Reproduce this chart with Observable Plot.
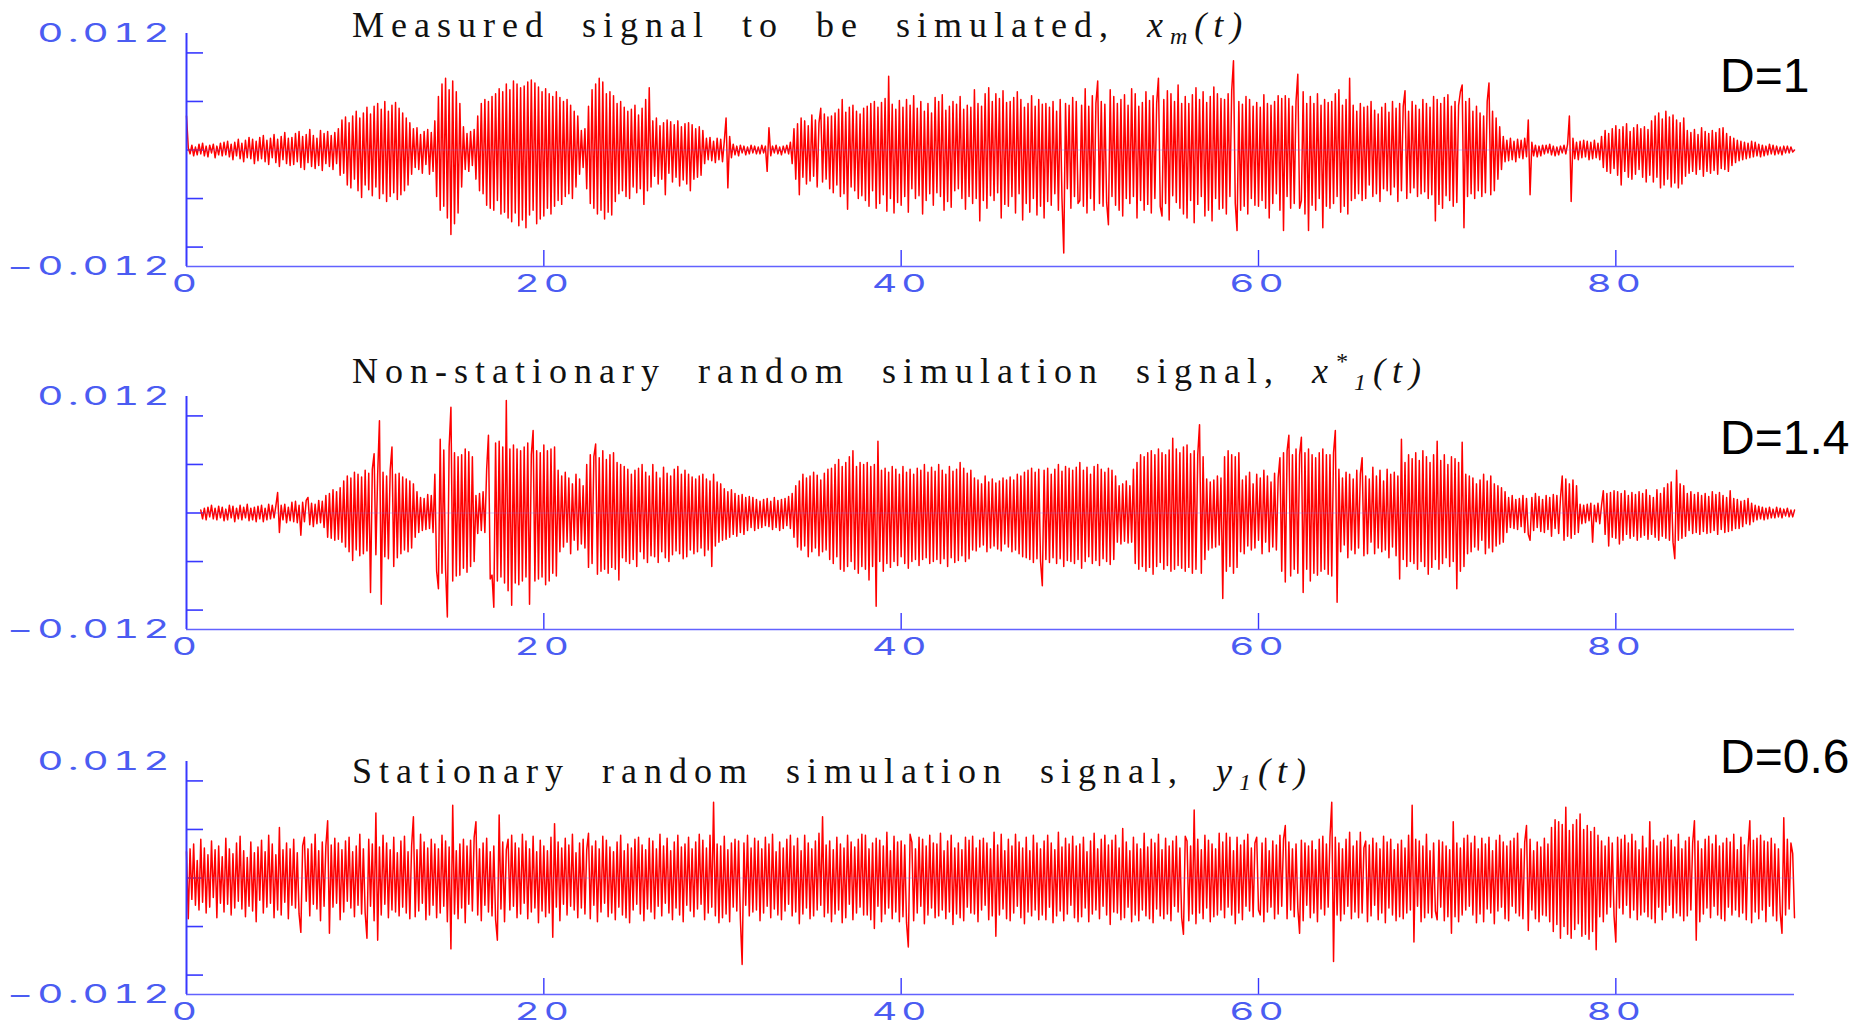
<!DOCTYPE html>
<html>
<head>
<meta charset="utf-8">
<script src="https://cdn.jsdelivr.net/npm/d3@7"></script>
<script src="https://cdn.jsdelivr.net/npm/@observablehq/plot@0.6"></script>
<style>
  html, body { margin: 0; padding: 0; background: #fff; }
  #chart { position: relative; width: 1854px; height: 1026px; overflow: hidden; background: #fff; }
  #chart svg.panel { position: absolute; left: 0; }
  #overlay { position: absolute; left: 0; top: 0; pointer-events: none; }
</style>
</head>
<body>
<div id="chart"></div>
<script>
// Time axis: one sample every DT seconds from 0 to 90 s.
const DT = 0.1;
const xDomain = [0, 90];
const xTicks = [0, 20, 40, 60, 80];
const yTicks = [-0.01, -0.005, 0, 0.005, 0.01];
const yLimits = [-0.012, 0.012];
// Amplitudes below are stored in units of 1e-4; each row holds 2 s of samples.
const AMP_UNIT = 1e-4;

// Measured signal x_m(t)
const measured = [
  /*  0 s */ 35, 2, -4, 5, -6, 3, -5, 6, -4, 7, -6, 4, -7, 5, -3, 6, -8, 4, -5, 7,
  /*  2 s */ -6, 8, -5, 9, -7, 6, -10, 8, -6, 11, -9, 7, -12, 10, -8, 13, -9, 11, -14, 9,
  /*  4 s */ -11, 13, -9, 15, -12, 10, -15, 12, -8, 16, -13, 11, -17, 14, -10, 18, -14, 12, -16, 13,
  /*  6 s */ -15, 17, -12, 19, -18, 14, -20, 16, -13, 21, -17, 15, -19, 12, -16, 20, -21, 17, -14, 19,
  /*  8 s */ -17, 15, -20, 18, -14, 22, -26, 31, -24, 34, -36, 28, -39, 35, -30, 40, -42, 33, -49, 38,
  /* 10 s */ -36, 44, -41, 37, -47, 45, -38, 48, -50, 42, -45, 50, -53, 40, -48, 46, -44, 49, -51, 43,
  /* 12 s */ -46, 38, -42, 33, -36, 28, -25, 22, -18, 23, -20, 16, -24, 19, -15, 21, -25, 18, -22, 30,
  /* 14 s */ -48, 55, -62, 68, -58, 74, -70, 62, -87, 71, -76, 60, -65, 48, -38, 24, -20, 17, -22, 19,
  /* 16 s */ -16, 21, -30, 35, -42, 48, -45, 52, -57, 50, -60, 55, -62, 58, -52, 63, -66, 60, -64, 68,
  /* 18 s */ -70, 62, -74, 71, -65, 68, -78, 64, -72, 66, -80, 70, -67, 72, -62, 69, -76, 65, -71, 60,
  /* 20 s */ -68, 63, -60, 58, -66, 55, -58, 60, -52, 54, -56, 50, -48, 52, -45, 46, -50, 40, -38, 35,
  /* 22 s */ -25, 20, -18, 22, -40, 45, -55, 62, -60, 68, -66, 74, -62, 70, -71, 58, -64, 60, -67, 56,
  /* 24 s */ -53, 48, -45, 50, -42, 44, -48, 40, -50, 42, -38, 46, -44, 36, -40, 43, -56, 52, -42, 64,
  /* 26 s */ -38, 30, -27, 33, -35, 25, -30, 28, -46, 31, -24, 29, -33, 26, -28, 30, -37, 24, -31, 27,
  /* 28 s */ -35, 28, -42, 26, -30, 22, -28, 24, -26, 20, -14, 12, -10, 13, -11, 9, -13, 12, -10, 11,
  /* 30 s */ -12, 9, 33, -39, 14, -8, 6, -5, 4, -6, 5, -3, 4, -5, 3, -4, 5, -3, 4, -4,
  /* 32 s */ 3, -4, 5, -3, 4, -22, 23, -6, 4, -3, 5, -4, 3, -5, 4, -3, 5, -4, 8, -14,
  /* 34 s */ 22, -30, 27, -46, 33, -28, 30, -35, 25, -32, 36, -27, 31, -38, 28, 43, -33, 37, -30, 34,
  /* 36 s */ -40, 35, -44, 38, -36, 42, -48, 52, -45, 39, -61, 44, -38, 46, -42, 40, -50, 37, -47, 43,
  /* 38 s */ -52, 45, -58, 48, -42, 50, -60, 44, -55, 49, -46, 53, -63, 76, -50, 47, -65, 42, -54, 51,
  /* 40 s */ -57, 44, -48, 52, -64, 46, -40, 56, -50, 43, -47, 50, -66, 40, -52, 48, -45, 38, -57, 54,
  /* 42 s */ -44, 50, -48, 57, -62, 41, -53, 45, -59, 50, -42, 47, -40, 55, -50, 42, -61, 46, -48, 44,
  /* 44 s */ -55, 62, -50, 48, -73, 45, -52, 58, -60, 64, -47, 50, -52, 58, -44, 53, -70, 61, -56, 49,
  /* 46 s */ -58, 50, -48, 54, -65, 60, -45, 52, -72, 44, -55, 48, -64, 56, -50, 45, -67, 52, -58, 47,
  /* 48 s */ -70, 48, -53, 44, -57, 50, -45, 40, -62, 52, -50, -106, 48, -40, 46, -60, 54, -48, 50, -55,
  /* 50 s */ -52, 46, -58, 63, -65, 45, -50, 56, -62, 48, 71, -55, 50, -58, 47, -54, -77, 62, -48, 55,
  /* 52 s */ -57, 48, -62, 52, -68, 57, -50, 46, -55, 63, -48, 58, -70, 45, -52, 49, -62, 60, -56, 51,
  /* 54 s */ -65, 56, -50, 48, 74, -58, -68, 52, -55, 61, -72, 58, -47, 50, -54, 67, -60, 48, -66, 55,
  /* 56 s */ -70, 48, -52, 57, -75, 64, -56, 52, -48, 60, -68, 49, -62, 55, -73, 65, -50, 58, -61, 53,
  /* 58 s */ -60, 52, -66, 58, -48, 61, 92, -55, -83, 50, -62, 47, -58, 55, -66, 52, -50, 45, -57, 49,
  /* 60 s */ -58, 44, -52, 57, -60, 48, -70, 46, -55, 50, -45, 56, -62, 53, -83, 56, -48, 53, -60, 45,
  /* 62 s */ -55, 50, 78, -60, -52, 60, -66, 48, -83, 55, -57, 48, -62, 58, -50, 46, -80, 52, -58, 49,
  /* 64 s */ -60, 50, -55, 58, -48, 62, -64, 46, -58, 52, -66, 74, -52, 46, -50, 40, -45, 48, -52, 44,
  /* 66 s */ -50, 45, -36, 50, -48, 41, -45, 37, -53, 44, -40, 48, -42, 39, -46, 50, -38, 43, -53, 48,
  /* 68 s */ -42, 45, 61, -50, 40, -44, 50, -39, 46, -48, 42, -45, 52, -43, 48, -50, 44, -46, 55, -73,
  /* 70 s */ 52, -56, 48, -60, 54, -47, 57, -52, 45, -58, 50, -54, 46, 60, 67, -80, 50, -48, 53, -45,
  /* 72 s */ 40, -50, 45, -42, 38, -48, 35, -44, 50, 69, -46, 40, -42, 33, -30, 24, -20, 14, -12, 10,
  /* 74 s */ -11, 12, -10, 9, -12, 11, -8, 10, -9, 12, -7, 31, -46, 8, -6, 5, -7, 4, -6, 5,
  /* 76 s */ -4, 5, -3, 6, -5, 4, -6, 3, -5, 4, -3, 5, -4, 6, 35, -53, 12, -9, 8, -10,
  /* 78 s */ 9, -8, 10, -7, 9, -10, 8, -9, 10, -8, 7, -10, 14, -18, 20, -22, 17, -24, 22, -19,
  /* 80 s */ 25, -26, 21, -36, 24, -22, 27, -28, 19, -30, 23, -25, 26, -20, 22, -28, 24, -33, 21, -26,
  /* 82 s */ 30, -33, 35, -28, 38, -39, 32, -36, 40, -30, 34, -38, 36, -34, 31, -39, 28, -35, 33, -27,
  /* 84 s */ 20, -24, 18, -22, 21, -25, 16, -20, 23, -27, 19, -22, 17, -24, 20, -21, 18, -25, 22, -19,
  /* 86 s */ 23, -20, 17, -22, 14, -16, 12, -13, 10, -11, 9, -10, 8, -9, 7, -8, 9, -7, 8, -6,
  /* 88 s */ 6, -7, 5, -6, 4, -5, 6, -4, 5, -5, 4, -4, 3, -5, 4, -3, 4, -3, 3, -2,
  /* 90 s */ 0
];

// Non-stationary random simulation x*_1(t); the record starts at 0.8 s
const nonStationary = [
  /*  0 s */ null, null, null, null, null, null, null, null, 3, -6, 5, -7, 6, -4, 8, -6, 5, -7, 7, -5,
  /*  2 s */ 6, -8, 4, -7, 8, -5, 7, -9, 5, -6, 8, -7, 6, -5, 9, -8, 5, -7, 6, -9,
  /*  4 s */ 7, -6, 8, -9, 5, -7, 9, -6, 8, -5, 7, 21, -20, 8, -7, 9, -10, 6, -8, 11,
  /*  6 s */ -9, 12, -10, 8, -23, 11, -9, 13, 16, -12, 10, -14, 9, -11, 13, -10, 12, -15, 18, -25,
  /*  8 s */ 20, -26, 24, -28, 22, -27, 26, -30, 33, -35, 38, -40, 36, -49, 42, -38, 40, -44, 37, -42,
  /* 10 s */ 44, -39, 41, -82, 45, 61, -43, 40, 95, -94, 42, -45, 38, -47, 44, 68, -55, 40, -46, 41,
  /* 12 s */ -42, 37, -38, 35, -40, 33, -36, 30, -25, 22, -20, 16, -18, 15, -17, 19, -16, 18, -20, 40,
  /* 14 s */ -60, -78, 76, -62, 65, -58, -107, 68, 109, -70, 62, -65, 58, -64, 60, -57, 66, -61, 63, -55,
  /* 16 s */ 58, -50, 18, -21, 20, -18, 22, -20, 45, 80, -68, -64, -97, 72, -70, 74, -66, 68, -72, 116,
  /* 18 s */ -80, 66, -95, 70, -72, 66, -74, 64, -70, 68, -66, 72, -94, 60, 85, -70, 64, -68, 62, -66,
  /* 20 s */ 70, -74, 64, -70, 66, -62, 68, -65, 44, -40, 38, -35, 42, -30, 36, -42, 30, -28, 40, -38,
  /* 22 s */ 35, -32, 28, -36, 50, -56, 60, -52, 58, 71, -63, 57, -60, 64, -58, 55, -62, 60, -56, 62,
  /* 24 s */ -58, 52, -69, 50, -46, 48, -50, 45, -52, 40, -48, 44, -55, 46, -40, 50, -47, 42, -51, 38,
  /* 26 s */ -44, 50, -45, 42, -51, 36, -40, 47, -46, 41, -50, 38, -43, 45, -39, 48, -42, 40, -47, 44,
  /* 28 s */ -45, 40, -38, 37, -42, 35, -40, 38, -36, 40, -44, 35, -38, 33, -55, 40, -34, 32, -30, 30,
  /* 30 s */ -28, 25, -27, 22, -25, 24, -22, 20, -24, 18, -20, 19, -22, 16, -18, 17, -15, 16, -18, 14,
  /* 32 s */ -16, 12, -15, 14, -13, 15, -14, 12, -17, 16, -15, 13, -18, 14, -16, 15, -13, 17, -16, 20,
  /* 34 s */ -25, 28, -35, 33, -38, 40, -34, 36, -45, 38, -40, 42, -36, 39, -44, 34, -40, 41, -38, 45,
  /* 36 s */ -48, 46, -52, 50, -45, 55, -58, 48, -60, 52, -55, 58, -50, 64, -58, 48, -62, 52, -55, 50,
  /* 38 s */ -58, 52, -69, 48, -55, 50, -96, 74, -50, 44, -60, 46, -52, 42, -56, 48, -50, 45, -54, 40,
  /* 40 s */ -45, 48, -52, 42, -57, 45, -50, 40, -48, 46, -54, 44, -48, 50, -46, 42, -52, 47, -50, 43,
  /* 42 s */ -48, 50, -52, 44, -47, 40, -55, 48, -46, 43, -51, 45, -49, 52, -44, 46, -50, 41, -47, 44,
  /* 44 s */ -38, 36, -39, 34, -35, 30, -33, 38, -40, 32, -36, 35, -34, 31, -37, 33, -39, 36, -32, 34,
  /* 46 s */ -35, 37, -40, 34, -38, 40, -42, 38, -45, 42, -46, 44, -48, 46, -51, 42, -47, 45, -50, -75,
  /* 48 s */ 44, -48, 46, -51, 40, -46, 45, -52, 50, -47, 43, -55, 48, -49, 46, -50, 44, -52, 47, -48,
  /* 50 s */ 52, -57, 44, -50, 47, -45, 40, -52, 48, -49, 50, -54, 45, -47, 42, -50, 46, -53, 44, -48,
  /* 52 s */ 38, -30, 28, -32, 30, -29, 33, -31, 28, -30, 45, -52, 52, -58, 60, -55, 58, -60, 62, -56,
  /* 54 s */ 64, -63, 60, -55, 66, -51, 62, -58, 60, -54, 65, -60, 77, -58, 66, -54, 62, -57, 68, -60,
  /* 56 s */ 70, -56, 61, -62, 64, -58, 60, 91, -62, 58, -48, 35, -38, 32, -36, 34, -35, 38, -33, 36,
  /* 58 s */ -88, 58, -60, 64, -55, 60, -62, 58, -56, 62, -40, 34, -42, 38, -34, 42, -38, 30, -36, 40,
  /* 60 s */ -28, 36, -42, 44, -30, 38, -40, 32, -35, 41, -38, 36, 57, -60, 62, -71, 64, 80, -65, 60,
  /* 62 s */ -58, 66, -62, 60, 78, -82, 62, -58, 66, -70, 60, -62, 57, -64, 62, -60, 66, -58, 60, -63,
  /* 64 s */ 60, -65, 62, 85, -92, 45, -40, 36, -33, 42, -46, 40, -38, 35, -42, 44, -36, 40, 57, -44,
  /* 66 s */ 38, -42, 35, -30, 47, -42, 38, -36, 44, -40, 33, -38, 45, -46, 40, -35, 42, -44, 38, -68,
  /* 68 s */ 76, -48, 52, -55, 60, -50, 56, -52, 62, -58, 54, -50, 64, -55, 58, -63, 52, -56, 60, -48,
  /* 70 s */ 74, -58, 54, -52, 60, -46, 50, -55, 58, -50, 56, -78, 52, -60, 73, -55, 40, -42, 38, -40,
  /* 72 s */ 36, -35, 30, -38, 34, -28, 40, -42, 33, -36, 38, -40, 30, -34, 28, -32, 26, -30, 22, -20,
  /* 74 s */ 16, -15, 18, -16, 14, -17, 15, -14, 18, -20, 15, -22, -28, 16, -18, 20, -15, 17, -19, 14,
  /* 76 s */ -20, 18, -17, 16, -24, 19, -16, 18, -21, 15, 38, -28, 35, -24, 30, -26, 34, -22, 28, -20,
  /* 78 s */ 9, -11, 8, -10, 9, -8, 10, -30, 8, -9, 10, -11, 8, 23, -22, 20, -34, 21, -25, 23,
  /* 80 s */ -26, 22, -32, 20, -28, 23, -22, 18, -26, 21, -24, 19, -28, 22, -25, 20, -23, 24, -27, 18,
  /* 82 s */ -22, 16, -25, 24, -28, 20, -24, 26, -26, 30, -28, 32, -30, -47, 44, -28, 30, -26, 28, -24,
  /* 84 s */ 20, -18, 22, -21, 19, -20, 21, -22, 18, -19, 20, -21, 17, -20, 22, -18, 19, -22, 21, -17,
  /* 86 s */ 18, -20, 16, -19, 23, -18, 15, -16, 14, -16, 12, -14, 13, -11, 15, -12, 10, -9, 8, -7,
  /* 88 s */ 7, -6, 6, -7, 5, -6, 6, -5, 4, -5, 6, -4, 5, -5, 4, -3, 5, -4, 3, -4,
  /* 90 s */ 3
];

// Stationary random simulation y_1(t)
const stationary = [
  /*  0 s */ 27, -42, 30, -22, 35, -28, 18, -33, 40, -25, 31, -36, 24, -30, 38, -20, 29, -41, 33, -26,
  /*  2 s */ 22, -35, 41, -27, 30, -38, 25, -31, 36, -24, 43, -32, 28, -40, 21, -29, 37, -34, 26, -45,
  /*  4 s */ 32, -23, 39, -36, 27, -30, 44, -26, 35, -41, 24, -33, 52, -38, 29, -25, 36, -42, 30, -28,
  /*  6 s */ 40, -31, 26, -37, -56, 33, 42, -24, 30, -39, 35, -27, 45, -32, 28, -44, 37, -29, 33, 59,
  /*  8 s */ -57, 34, -30, 41, -26, 36, -43, 29, -35, 38, -24, 42, -31, 27, -40, 33, -28, 45, -37, 30,
  /* 10 s */ -36, -62, 40, -29, 35, -44, 67, -64, 32, -38, 44, -27, 36, -41, 29, -33, 42, -35, 26, -39,
  /* 12 s */ 38, -30, 43, -36, 27, -42, 33, 63, -40, 29, -34, 45, -26, 37, -43, 31, -38, 40, -28, 35,
  /* 14 s */ -41, 30, -36, 44, -29, 38, -45, 32, -73, 75, -37, 28, -42, 35, -31, 40, -46, 33, -27, 39,
  /* 16 s */ -34, 42, 58, -38, 30, -44, 36, -28, 41, -35, 27, -39, 33, -43, -64, 65, -32, 37, -45, 29,
  /* 18 s */ 40, -33, 44, -29, 36, -41, 31, -37, 45, -26, 38, -42, 30, -35, 43, -31, 27, -46, 39, -34,
  /* 20 s */ 33, -40, 28, -36, 42, -61, 56, -30, 37, -44, 31, -27, 41, -38, 34, -29, 45, -33, 26, -41,
  /* 22 s */ 36, -31, 40, -37, 29, 46, -42, 33, -28, 38, -45, 30, -35, 43, -26, 39, -40, 32, -36, 27,
  /* 24 s */ -43, 37, -30, 44, -38, 28, -41, 35, -46, 31, -33, 40, -27, 42, -37, 34, -44, 29, -32, 41,
  /* 26 s */ -35, 38, -42, 30, -29, 45, -39, 33, -26, 41, -36, 28, -43, 37, -31, 44, -38, 32, -45, 35,
  /* 28 s */ -28, 42, -34, 30, -40, 37, -32, 45, -27, 39, -43, 31, -36, 44, -30, 78, -39, 35, -46, 33,
  /* 30 s */ -41, 43, -37, 29, -45, 36, -30, 40, -34, 38, -42, -89, 36, -28, 44, -39, 31, -35, 41, -33,
  /* 32 s */ 38, -44, 30, -36, 42, -29, 35, -41, 45, -32, 27, -38, 37, -43, 31, -34, 40, -27, 44, -39,
  /* 34 s */ 33, -35, 41, -47, 28, -37, 44, -31, 36, -42, 30, -39, 38, -33, 46, -28, 63, -40, 34, -36,
  /* 36 s */ 38, -45, 29, -37, 42, -33, 35, -46, 31, -41, 44, -27, 37, -43, 32, -36, 40, -30, 45, -38,
  /* 38 s */ 44, -38, 30, -43, 36, -52, 41, -29, 39, -45, 33, -37, 47, -31, 28, -42, 43, -35, 37, -45,
  /* 40 s */ 38, -40, 34, -46, -71, 45, 37, -44, 30, -36, 42, -29, 40, -47, 33, -38, 44, -31, 36, -41,
  /* 42 s */ 35, -39, 46, -33, 28, -42, 38, -35, 44, -48, 31, -37, 36, -41, 29, -44, 42, -30, 39, -36,
  /* 44 s */ 43, -37, 31, -45, 39, -33, 41, -28, 36, -43, 30, -39, 47, -60, 34, -38, 45, -32, 28, -42,
  /* 46 s */ 40, -44, 33, -36, 45, -29, 37, -41, 31, -47, 42, -35, 28, -39, 44, -33, 36, -43, 30, -38,
  /* 48 s */ 38, -43, 44, -30, 36, -46, 29, -39, 47, -34, 32, -44, 41, -37, 35, -28, 43, -41, 33, -45,
  /* 50 s */ 35, -40, 42, -31, 27, -45, 38, -37, 46, -33, 30, -42, 40, -29, 44, -38, 34, -48, 39, -35,
  /* 52 s */ 44, -36, 31, -43, 51, -41, 37, -30, 28, -45, 42, -38, 35, -44, 30, -33, 46, -39, 32, -42,
  /* 54 s */ 40, -46, 36, -32, 45, -39, 29, -42, 41, -37, 33, -44, 38, -29, 43, -35, 31, -41, -58, 43,
  /* 56 s */ 38, -44, 33, -37, 70, -47, 40, -36, 29, -42, 44, -31, 39, -45, 35, -40, 30, -38, 46, -33,
  /* 58 s */ 37, -41, 46, -30, 42, -38, 28, -47, 42, -36, 34, -43, 39, -29, 45, -34, 31, -40, 36, 42,
  /* 60 s */ -33, -38, 36, -45, 41, -35, 28, -30, 38, -42, 34, -37, 44, -29, 40, 54, -42, 37, -33, 30,
  /* 62 s */ -40, 35, -31, -57, 39, -44, 36, -28, 33, -41, 38, -36, 29, -45, 40, -32, 43, -38, 35, -30,
  /* 64 s */ 42, 78, -86, 42, -38, 36, -44, 30, -37, 40, -29, 47, -42, 33, -35, 38, -41, 47, -36, 31,
  /* 66 s */ 38, -45, 34, -39, 41, -28, 36, -43, 30, -36, 43, -46, 37, -31, 40, -38, 29, -44, 35, -40,
  /* 68 s */ 39, -42, 31, -36, 44, -33, 75, -66, 40, -29, 38, -45, 33, -41, 45, -36, 28, -41, 36, -34,
  /* 70 s */ -43, 39, -30, 37, -44, 33, -40, 29, -57, 58, -40, 36, -45, 31, -38, 41, -33, 44, -29, 36,
  /* 72 s */ -38, 43, -46, 30, -37, 41, -45, 35, -32, 42, -36, 28, -47, 39, -34, 44, -30, 37, -42, 33,
  /* 74 s */ -44, 38, -29, 41, -36, 46, -39, 30, -42, 37, 54, -54, 40, -33, 28, -42, 37, -45, 32, -38,
  /* 76 s */ 41, -39, 35, -45, 52, -55, 60, -48, 58, -62, 55, -50, 73, -58, 49, -62, 55, -53, 60, -47,
  /* 78 s */ 66, -60, 50, -58, 54, -63, 48, -55, 52, -74, 44, -40, 38, -45, 33, -37, 42, -30, 36, -39,
  /* 80 s */ -66, 42, -31, 40, -37, 44, -28, 36, -41, 45, -33, 38, -43, 29, -38, 43, -35, 31, -40, 58,
  /* 82 s */ -42, 39, -46, 33, -30, 37, -43, 41, -35, 44, -28, 39, -41, 32, -36, 45, -39, 30, -44, 38,
  /* 84 s */ -39, 42, -33, 36, 59, -64, 38, -45, 30, -37, 40, -31, 43, -41, 35, -29, 44, -38, 33, -42,
  /* 86 s */ 36, -44, 41, -30, 37, -38, 45, -33, 29, -40, 42, -36, 34, -43, 31, 59, -46, 39, -35, 41,
  /* 88 s */ -42, 44, -33, 38, -45, 37, -29, 41, -39, 35, -44, 30, -36, -57, 62, -38, 40, -32, 36, 25,
  /* 90 s */ -41
];

const panelTops = [0, 363, 728];
const dLabels = ["D=1", "D=1.4", "D=0.6"];
const dBaselines = [92, 454, 773];
const titleBaselines = [37, 383, 783];
// Title runs: [text, style] where style is "" (roman), "i" (italic), "sub", "sup"
const titles = [
  [["Measured signal to be simulated, ", ""], ["x", "i"], ["m", "sub"], ["(t)", "i"]],
  [["Non-stationary random simulation signal, ", ""], ["x", "i"], ["*", "sup"], ["1", "sub"], ["(t)", "i"]],
  [["Stationary random simulation signal, ", ""], ["y", "i"], ["1", "sub"], ["(t)", "i"]]
];
const series = [measured, nonStationary, stationary];

const AXIS = "#3838ff";
const AXIS_X = "#6262ff";
const LABEL = "#4b5cf2";
const SIGNAL = "#ff0000";
const TICK_FONT = "Inter, DejaVu Sans, sans-serif";

const chart = document.getElementById("chart");

// amplitude labels use a long minus sign
const ampFormat = d => (d < 0 ? "\u2212" : "") + Math.abs(d).toFixed(3);

function panel(values, top) {
  const rows = values.map((v, i) => ({t: i * DT, a: v == null ? NaN : v * AMP_UNIT}));
  const svg = Plot.plot({
    width: 1854,
    height: 298,
    marginTop: 33,
    marginBottom: 32,
    marginLeft: 186,
    marginRight: 60,
    x: {domain: xDomain},
    y: {domain: yLimits},
    style: {background: "transparent", overflow: "visible"},
    marks: [
      // inward tick marks
      Plot.axisY({ticks: yTicks, tickSize: -17, stroke: AXIS, strokeWidth: 1.6, fill: "none", label: null}),
      Plot.axisX({ticks: xTicks.slice(1), tickSize: -16, stroke: AXIS, strokeWidth: 1.4, fill: "none", label: null}),
      // the signal
      Plot.lineY(rows, {x: "t", y: "a", stroke: SIGNAL, strokeWidth: 1.5}),
      // faint zero line
      Plot.ruleY([0], {stroke: "#7a66ff", strokeOpacity: 0.35, strokeWidth: 1}),
      // axis lines
      Plot.ruleX([xDomain[0]], {stroke: AXIS, strokeWidth: 2}),
      Plot.ruleY([yLimits[0]], {stroke: AXIS_X, strokeWidth: 1.6}),
      // labels only at the ends of the amplitude range
      Plot.axisY({ticks: yLimits, tickSize: 0, tickPadding: 13, tickFormat: ampFormat,
        fill: LABEL, label: null, fontSize: 25, fontFamily: TICK_FONT}),
      Plot.axisX({ticks: xTicks, tickSize: 0, tickPadding: 8, tickFormat: d => String(d),
        fill: LABEL, label: null, fontSize: 24, fontFamily: TICK_FONT})
    ]
  });
  svg.classList.add("panel");
  svg.style.top = top + "px";
  chart.appendChild(svg);
  // widen the tick-label glyphs
  svg.querySelectorAll('g[aria-label="y-axis tick label"] text, g[aria-label="x-axis tick label"] text').forEach(el => {
    let tr = el.getAttribute("transform");
    if (!tr) {
      const x = el.getAttribute("x") || 0, y = el.getAttribute("y") || 0;
      el.removeAttribute("x"); el.removeAttribute("y");
      tr = `translate(${x},${y})`;
    }
    el.style.letterSpacing = "2.5px";
    el.setAttribute("transform", tr + " scale(1.62,1)");
  });
}

series.forEach((s, i) => panel(s, panelTops[i]));

// Titles and D labels
const overlay = d3.select(chart).append("svg")
  .attr("id", "overlay")
  .attr("width", 1854)
  .attr("height", 1026);

titles.forEach((runs, i) => {
  const text = overlay.append("text")
    .attr("x", 352)
    .attr("y", titleBaselines[i])
    .attr("fill", "#111")
    .style("font-family", "Liberation Serif, Times New Roman, serif")
    .style("font-size", "36px")
    .style("letter-spacing", "7px")
    .style("word-spacing", "16px")
    .style("white-space", "pre");
  let shift = 0;
  runs.forEach(([str, kind]) => {
    const ts = text.append("tspan").text(str);
    let target = 0;
    if (kind === "sub") target = 7;
    if (kind === "sup") target = -14;
    if (kind !== "") ts.attr("font-style", "italic");
    if (kind === "sub" || kind === "sup") ts.attr("font-size", 24);
    ts.attr("dy", target - shift);
    shift = target;
  });
});

overlay.selectAll("text.dlabel")
  .data(dLabels)
  .join("text")
  .attr("class", "dlabel")
  .attr("x", 1720)
  .attr("y", (d, i) => dBaselines[i])
  .attr("fill", "#000")
  .style("font-family", "Liberation Sans, Arial, sans-serif")
  .style("font-size", "48px")
  .text(d => d);
</script>
</body>
</html>
